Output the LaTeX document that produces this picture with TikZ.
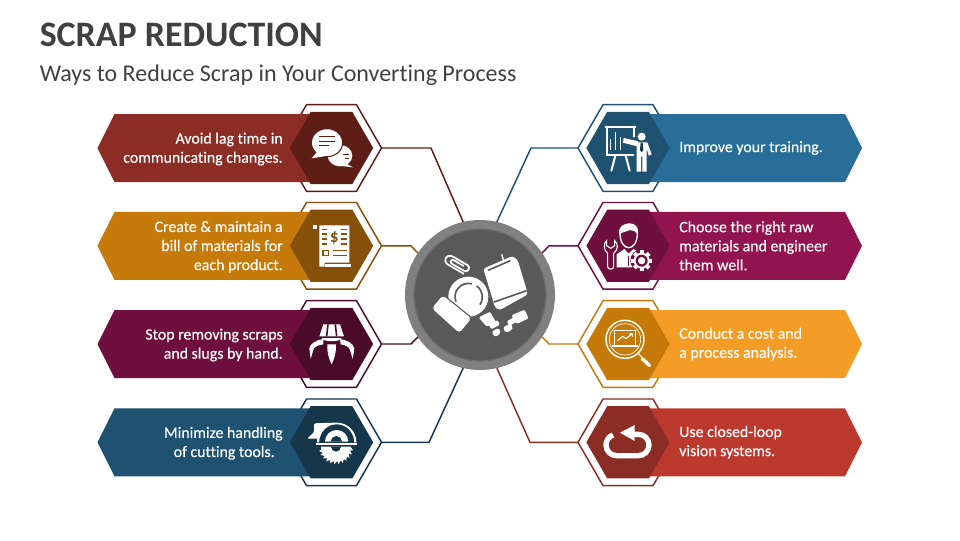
\documentclass[tikz,border=0pt]{standalone}
\usepackage{fontspec}
\setmainfont{Carlito}[Ligatures=NoCommon]
\newfontfamily\banfont{Carlito}[Ligatures=NoCommon,FakeBold=0.25]
\usetikzlibrary{shapes.geometric}

\definecolor{inka}{HTML}{404040}
\definecolor{rusta}{HTML}{8B2C25}
\definecolor{rustb}{HTML}{5E1D17}
\definecolor{ochra}{HTML}{C67A0A}
\definecolor{ochrb}{HTML}{85510A}
\definecolor{plma}{HTML}{6E0F3E}
\definecolor{plmb}{HTML}{4A0A29}
\definecolor{teala}{HTML}{1F5270}
\definecolor{tealb}{HTML}{15364B}
\definecolor{bluea}{HTML}{286E98}
\definecolor{rosea}{HTML}{92144F}
\definecolor{ambra}{HTML}{F39C26}
\definecolor{reda}{HTML}{BC392E}

\tikzset{
  ringhex/.style={regular polygon,regular polygon sides=6,minimum size=75pt,inner sep=0pt,outer sep=0pt,fill=white,line width=1.1pt},
  corehex/.style={regular polygon,regular polygon sides=6,minimum size=62.5pt,inner sep=0pt,outer sep=0pt},
  lnk/.style={line width=1.1pt},
  bantext/.style={text=white,font=\banfont\fontsize{11.9}{14.3}\selectfont,inner sep=0pt},
  thin icon/.style={white,line width=1pt},
  wide icon/.style={white,line width=1.5pt,line cap=round},
  cut/.style={line width=1.2pt}
}

\begin{document}
\begin{tikzpicture}[x=0.75pt,y=-0.75pt]
  \useasboundingbox (0,0) rectangle (960,540);
  \node[anchor=west,inner sep=0pt,text=inka,font=\fontsize{26.9}{30}\bfseries\selectfont] (title) at (39.5,35) {SCRAP REDUCTION};
  \node[anchor=west,inner sep=0pt,text=inka,font=\fontsize{18}{21}\selectfont] (subtitle) at (39.5,75) {Ways to Reduce Scrap in Your Converting Process};
  \node[circle,fill=black!50,minimum size=112.5pt,inner sep=0pt,outer sep=0pt] (hub) at (480,295) {};
  \node[circle,fill=black!65,draw=black!57,line width=1pt,minimum size=99pt,inner sep=0pt] (hubcore) at (480,295) {};
  \foreach \n/\y/\bx/\ang/\ban/\drk/\txt in {
    a/148/431/103/rusta/rustb/{Avoid lag time in\\communicating changes.},
    b/245.8/411/146/ochra/ochrb/{Create \& maintain a\\bill of materials for\\each product.},
    c/344/411/214/plma/plmb/{Stop removing scraps\\and slugs by hand.},
    d/442.3/429/257/teala/tealb/{Minimize handling\\of cutting tools.\hspace*{6pt}}}{
    \node[ringhex,draw=\drk] (ring\n) at (331.5,\y) {};
    \coordinate (bend\n) at (\bx,\y);
    \draw[lnk,draw=\drk] (ring\n.east) -- (bend\n) -- (hub.\ang);
    \fill[\ban] (97.5,\y) -- (114.5,\y-34) -- (331.5,\y-34) -- (331.5,\y+34) -- (114.5,\y+34) -- cycle;
    \node[corehex,fill=\drk] (core\n) at (331.5,\y) {};
    \node[bantext,anchor=east,align=right] (txt\n) at (283,\y+1) {\txt};
  }
  \foreach \n/\y/\bx/\ang/\ban/\drk/\txt in {
    e/148/531/77/bluea/teala/{Improve your training.},
    f/245.8/549/34/rosea/plma/{Choose the right raw\\materials and engineer\\them well.},
    g/344/549/326/ambra/ochra/{Conduct a cost and\\a process analysis.},
    h/442.3/530/283/reda/rusta/{Use closed-loop\\vision systems.}}{
    \node[ringhex,draw=\drk] (ring\n) at (628,\y) {};
    \coordinate (bend\n) at (\bx,\y);
    \draw[lnk,draw=\drk] (ring\n.west) -- (bend\n) -- (hub.\ang);
    \fill[\ban] (862,\y) -- (845,\y-34) -- (628,\y-34) -- (628,\y+34) -- (845,\y+34) -- cycle;
    \node[corehex,fill=\drk] (core\n) at (628,\y) {};
    \node[bantext,anchor=west,align=left] (txt\n) at (679,\y) {\txt};
  }
  % speech bubbles
  \begin{scope}[shift={(90,95)},scale=1/3]
    \fill[white] (750,182) ellipse [x radius=37,y radius=32];
    \fill[white] (768,205) -- (788,217) -- (745,212) -- cycle;
    \draw[rustb,cut] (760,178) -- (776,178) (764,190) -- (776,190);
    \draw[rustb,fill=white,line width=0.8pt] (711,143) ellipse [x radius=47,y radius=42];
    \fill[white] (682,170) -- (665,190) -- (708,183) -- cycle;
    \draw[rustb,cut] (688,125) -- (735,125) (688,139) -- (735,139) (688,152) -- (718,152);
  \end{scope}
  % bill
  \begin{scope}[shift={(90,95)},scale=1/3]
    \fill[white] (668,391) rectangle (681,403);
    \fill[white] (688,391) -- (778,391) -- (778,503) -- (704,503) -- (704,515) -- (688,515) -- cycle;
    \fill[white] (704,507) rectangle (783,515);
    \foreach \l in {403,417,432,447}{
      \draw[ochrb,cut] (697,\l) -- (710,\l) (752,\l) -- (771,\l);
    }
    \node[text=ochrb,inner sep=0pt,font=\fontsize{13}{13}\bfseries\selectfont] (billsign) at (733,430) {\$};
    \draw[ochrb,cut] (699,466) rectangle (715,482);
    \draw[ochrb,cut] (728,467) -- (771,467) (728,481) -- (771,481);
  \end{scope}
  % claw
  \begin{scope}[shift={(90,295)},scale=1/3]
    \fill[white] (688,124) -- (700,88) -- (750,88) -- (762,124) -- cycle;
    \draw[plmb,cut] (714,88) -- (710,124) (736,88) -- (740,124);
    \fill[white] (695,129) -- (755,129) .. controls (750,142) and (700,142) .. (695,129) -- cycle;
    \fill[white] (700,132) .. controls (680,135) and (660,145) .. (658,160) -- (662,192) -- (670,165) .. controls (672,155) and (685,150) .. (700,148) -- cycle;
    \fill[white] (750,132) .. controls (770,135) and (790,145) .. (793,160) -- (788,192) -- (780,165) .. controls (778,155) and (765,150) .. (752,148) -- cycle;
    \fill[white] (712,148) -- (738,148) .. controls (740,170) and (732,195) .. (725,208) .. controls (718,195) and (710,170) .. (712,148) -- cycle;
  \end{scope}
  % saw
  \begin{scope}[shift={(90,295)},scale=1/3]
    \draw[white,line width=1.6pt] (684,442) arc [start angle=180,end angle=360,radius=56];
    \fill[white,rounded corners=1pt] (651,431) -- (672,412) -- (672,385) -- (735,383) -- (750,392) -- (700,400) -- (688,431) -- cycle;
    \fill[tealb] (690,438) arc [start angle=180,end angle=360,radius=50] -- cycle;
    \fill[white] (705,440) arc [start angle=180,end angle=360,radius=35] -- cycle;
    \fill[tealb] (722,440) arc [start angle=180,end angle=360,radius=17] -- cycle;
    \fill[white] (678,443) rectangle (802,451);
    \begin{scope}[shift={(738,455)}]
      \fill[white] (-45,0) arc [start angle=180,end angle=0,radius=45] -- cycle;
      \foreach \a in {8,22,...,172}{
        \fill[white] (\a-6:44) -- (\a+4:53) -- (\a+6:44) -- cycle;
      }
      \fill[tealb] (-15,0) arc [start angle=180,end angle=0,radius=15] -- cycle;
    \end{scope}
  \end{scope}
  % board and speaker
  \begin{scope}[shift={(570,95)},scale=1/3]
    \draw[wide icon] (106,95) -- (196,95) (112,95) -- (112,180) -- (190,180) (193,95) -- (193,125);
    \draw[thin icon] (122,165) -- (122,132) (137,165) -- (137,110) (152,165) -- (152,127);
    \draw[wide icon] (136,182) -- (124,227) (167,182) -- (179,227);
    \fill[white] (161,129) -- (205,139) -- (205,155) -- (159,143) -- cycle;
    \fill[white] (215,125) circle [radius=12];
    \fill[white] (200,142) -- (232,142) -- (245,178) -- (236,182) -- (230,160) -- (230,230) -- (217,230) -- (217,185) -- (213,185) -- (213,230) -- (200,230) -- cycle;
    \fill[tealb] (212,143) -- (218,143) -- (220,165) -- (215,172) -- (210,165) -- cycle;
  \end{scope}
  % engineer
  \begin{scope}[shift={(570,95)},scale=1/3]
    \fill[white] (148,418) .. controls (143,392) and (165,385) .. (178,385) .. controls (195,385) and (208,395) .. (203,418) .. controls (198,410) and (190,405) .. (180,405) .. controls (170,410) and (158,410) .. (148,418) -- cycle;
    \draw[thin icon] (150,415) .. controls (150,445) and (165,458) .. (176,458) .. controls (188,458) and (202,445) .. (202,415);
    \fill[white] (140,517) -- (140,478) -- (163,462) -- (176,476) -- (190,462) -- (222,478) -- (205,517) -- cycle;
    \draw[plma,line width=0.7pt] (176,484) -- (176,512);
    \fill[plma] (215,497) circle [radius=34];
    \foreach \a in {0,45,...,315}{
      \fill[white] (215,497) ++(\a-14:24) -- ++(\a:8) -- ++(\a+90:12) -- ++(\a+180:8) -- cycle;
    }
    \fill[white] (215,497) circle [radius=24];
    \fill[plma] (215,497) circle [radius=18];
    \fill[white] (215,497) circle [radius=11];
    \draw[white,line width=0.8pt] (113,515) -- (113,475) .. controls (100,465) and (100,445) .. (110,437) -- (110,452) -- (122,460) -- (134,452) -- (134,437) .. controls (145,445) and (145,465) .. (131,475) -- (131,515) .. controls (131,525) and (113,525) .. (113,515) -- cycle;
  \end{scope}
  % magnifier
  \begin{scope}[shift={(570,295)},scale=1/3]
    \draw[white,line width=1.1pt] (165,133) circle [radius=57];
    \draw[white,line width=0.5pt] (165,133) circle [radius=47];
    \draw[white,line width=0.8pt] (133,150) -- (133,107) -- (197,107) -- (197,150);
    \fill[white] (126,149) -- (204,149) -- (204,155) -- (126,155) -- cycle;
    \draw[white,line width=0.8pt] (143,137) -- (158,124) -- (168,131) -- (187,116) (178,116) -- (187,116) -- (187,125);
    \draw[white,line width=0.8pt] (205,175) -- (218,190);
    \draw[white,line width=2.6pt,line cap=round] (218,192) -- (238,211);
  \end{scope}
  % closed loop
  \begin{scope}[shift={(570,295)},scale=1/3]
    \draw[white,line width=4pt] (190,418) -- (205,418) arc [start angle=270,end angle=450,radius=32] -- (140,482) arc [start angle=90,end angle=250,radius=32];
    \fill[white] (150,413) -- (194,390) -- (194,438) -- cycle;
  \end{scope}
  % parts on the hub
  \begin{scope}[shift={(380,200)},scale=1/3]
    \begin{scope}[rotate around={-30:(230,195)}]
      \draw[white,line width=1.3pt] (262,207) -- (205,207) arc [start angle=90,end angle=270,radius=14] -- (258,179) arc [start angle=270,end angle=450,radius=10] -- (215,199) arc [start angle=90,end angle=270,radius=6] -- (250,187);
    \end{scope}
    \fill[white] (265,290) circle [radius=60];
    \draw[black!65,cut] (228,305) arc [start angle=158,end angle=260,radius=40];
    \draw[black!65,cut] (290,258) arc [start angle=305,end angle=395,radius=40];
    \draw[black!65,cut] (250,253) arc [start angle=248,end angle=285,radius=40];
    \draw[black!65,fill=white,line width=0.8pt,rounded corners=3pt] (153,325) -- (188,283) -- (277,355) -- (238,402) -- cycle;
    \fill[white,rounded corners=2pt] (310,206) -- (398,168) -- (413,180) -- (444,283) -- (358,331) -- (345,322) -- cycle;
    \draw[white,line width=1pt] (365,163) -- (372,185);
    \draw[black!65,cut] (324,211) -- (391,182) (342,306) -- (440,272);
    \fill[white,rounded corners=1pt] (296,352) -- (330,335) -- (348,367) -- (320,380) -- cycle;
    \fill[white,rounded corners=1pt] (326,374) -- (352,360) -- (360,374) -- (334,388) -- cycle;
    \fill[white,rounded corners=2pt] (334,395) -- (358,383) -- (362,400) -- (345,412) -- cycle;
    \fill[white,rounded corners=1pt] (394,346) -- (434,329) -- (446,355) -- (410,372) -- cycle;
    \fill[white,rounded corners=1pt] (380,364) -- (405,350) -- (412,364) -- (388,378) -- cycle;
    \fill[white,rounded corners=2pt] (368,382) -- (392,370) -- (400,386) -- (378,400) -- cycle;
  \end{scope}
\end{tikzpicture}
\end{document}
